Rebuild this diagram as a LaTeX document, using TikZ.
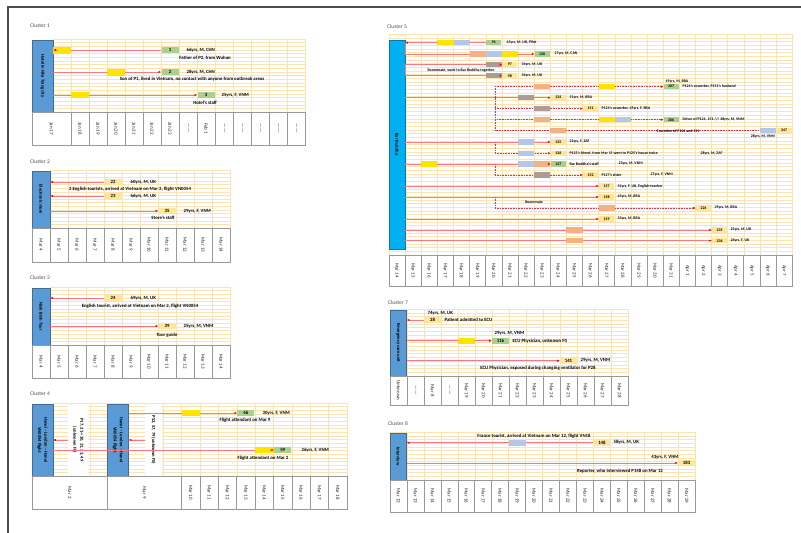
\documentclass[tikz,border=0pt]{standalone}
\usepackage{fontspec}
\setmainfont{Carlito}
\usetikzlibrary{arrows.meta}

\definecolor{gridc}{RGB}{252,228,178}
\definecolor{venueblue}{RGB}{91,155,213}
\definecolor{barblue}{RGB}{0,176,240}
\definecolor{boxgreen}{RGB}{169,208,142}
\definecolor{boxyellow}{RGB}{255,230,153}
\definecolor{hlyellow}{RGB}{255,228,0}
\definecolor{hlblue}{RGB}{180,199,231}
\definecolor{hlorange}{RGB}{244,177,131}
\definecolor{hlgrey}{RGB}{172,156,150}
\definecolor{linkpink}{RGB}{250,120,125}
\definecolor{dotred}{RGB}{235,50,60}

\newcommand\tgrid[6]{%
  \foreach \i in {0,...,#3} \draw[gridln] ({#1+#4*\i},#2) -- ++(0,{#5*#6});
  \foreach \j in {0,...,#5} \draw[gridln] (#1,{#2+#6*\j}) -- ++({#3*#4},0);}
\newcommand\vtext[1]{\rotatebox{-90}{#1}}
\newcommand\daterow[6]{\foreach \t [count=\i] in {#6}
  \node[datecell,minimum width=#4pt,minimum height=#5pt] (#1\i) at ({#2+#4*(\i-0.5)},{#3+#5/2}) {\vtext{\t}};}
\newcommand\hlc[3]{\fill[#1] ({389+16.125*#2},{#3-2.6}) rectangle ++(16.125,5.2);}

\begin{document}
\begin{tikzpicture}[x=1pt,y=-1pt,>={Latex[length=2.6pt,width=2.4pt,color=red]},
  gridln/.style={draw=gridc,line width=0.35pt},
  venue/.style={draw=venueblue!70!black,line width=0.4pt,fill=venueblue,inner sep=0pt,font=\fontsize{4.6}{5.2}\selectfont\bfseries},
  datecell/.style={draw=gray!80,line width=0.6pt,fill=white,inner sep=0pt,text=black!85,font=\fontsize{5}{5.5}\selectfont},
  ctitle/.style={anchor=west,inner sep=0pt,text=black!70,font=\fontsize{5.5}{6.5}\selectfont},
  lbl/.style={inner sep=0.4pt,font=\fontsize{4.8}{5.5}\selectfont\bfseries},
  slbl/.style={inner sep=0.4pt,font=\fontsize{3.9}{4.5}\selectfont\bfseries},
  gbox/.style={lbl,fill=boxgreen,minimum width=17pt,minimum height=6pt},
  ybox/.style={lbl,fill=boxyellow,minimum width=17pt,minimum height=6pt},
  sgbox/.style={slbl,fill=boxgreen,minimum width=15pt,minimum height=5.2pt},
  sybox/.style={slbl,fill=boxyellow,minimum width=15pt,minimum height=5.2pt},
  link/.style={draw=linkpink,line width=0.9pt},
  dlink/.style={draw=dotred,densely dotted,line width=0.6pt},
  note/.style={fill=white,inner sep=0pt,font=\fontsize{4.6}{5.2}\selectfont\bfseries}]
\useasboundingbox (0,0) rectangle (801,533);
\draw[gray!60!black,line width=1.2pt] (8,533) -- (8,7) -- (801,7);

% cluster 1
\node[ctitle] (t1) at (30,26) {Cluster 1};
\tgrid{53}{39}{14}{18}{20}{3.65}
\node[venue,minimum width=21pt,minimum height=72pt] (hotel) at (42.5,76) {\vtext{Hotel in Nha Trang city}};
\node[gbox] (p1) at (170,50) {1};
\node[gbox] (p2) at (170,72) {2};
\node[gbox] (p3) at (206,95) {3};
\draw[link] (hotel.east |- p1) -- (p1);
\draw[link,->] (hotel.east |- p2) -- (p2);
\draw[link,->] (hotel.east |- p3) -- (p3);
\fill[hlyellow] (53,47) rectangle (71,53.5);
\fill[hlyellow] (107,69) rectangle (125,75.5);
\fill[hlyellow] (71,91.8) rectangle (89,98.3);
\draw[link,<-] (hotel.east |- p1) -- ++(5,0);
\node[lbl,anchor=west] (l1a) at (186,50) {66yrs, M, CHN};
\node[lbl] (l1b) at (205,58) {Father of P2, from Wuhan};
\node[lbl,anchor=west] (l2a) at (186,72) {28yrs, M, CHN};
\node[lbl] (l2b) at (192,79.5) {Son of P1, lived in Vietnam, no contact with anyone from outbreak areas};
\node[lbl,anchor=west] (l3a) at (221,95) {25yrs, F, VNM};
\node[lbl] (l3b) at (205,102.3) {Hotel's staff};
\node[datecell,minimum width=39pt,minimum height=33pt] (d1-0) at (51.5,128.5) {\vtext{Jan 17}};
\daterow{d1-}{71}{112}{18}{33}{Jan 18,Jan 19,Jan 20,Jan 21,Jan 22,Jan 23,------,Feb 1,------,------,------,------,------}

% cluster 2
\node[ctitle] (t2) at (30,162) {Cluster 2};
\tgrid{50}{170}{10}{18}{16}{3.625}
\node[venue,minimum width=18pt,minimum height=57pt] (store) at (41,199.5) {\vtext{Electronic store}};
\node[ybox] (p22) at (113,182) {22};
\node[ybox] (p23) at (113,196) {23};
\node[ybox] (p35) at (167,211) {35};
\draw[link,<-] (store.east |- p22) -- (p22);
\draw[link,<-] (store.east |- p23) -- (p23);
\draw[link,->] (store.east |- p35) -- (p35);
\node[lbl,anchor=west] (l22) at (130,182) {60yrs, M, UK};
\node[lbl] (l22b) at (130,189) {2 English tourists, arrived at Vietnam on Mar 2, flight VN0054};
\node[lbl,anchor=west] (l23) at (130,196) {66yrs, M, UK};
\node[lbl,anchor=west] (l35) at (183,211) {29yrs, F, VNM};
\node[lbl] (l35b) at (163,218) {Store's staff};
\daterow{d2-}{32}{228}{18}{34}{Mar 4,Mar 5,Mar 6,Mar 7,Mar 8,Mar 9,Mar 10,Mar 11,Mar 12,Mar 13,Mar 14}

% cluster 3
\node[ctitle] (t3) at (30,278) {Cluster 3};
\tgrid{50}{287}{10}{18}{16}{3.625}
\node[venue,minimum width=18pt,minimum height=57pt] (tour) at (41,316.5) {\vtext{Ninh Binh Tour}};
\node[ybox] (p24) at (113,298) {24};
\node[ybox] (p39) at (167,326) {39};
\draw[link,<-] (tour.east |- p24) -- (p24);
\draw[link,->] (tour.east |- p39) -- (p39);
\node[lbl,anchor=west] (l24) at (130,298) {69yrs, M, UK};
\node[lbl] (l24b) at (140,306) {English tourist, arrived at Vietnam on Mar 2, flight VN0054};
\node[lbl,anchor=west] (l39) at (183,326) {25yrs, M, VNM};
\node[lbl] (l39b) at (167,335) {Tour guide};
\daterow{d3-}{32}{345}{18}{33}{Mar 4,Mar 5,Mar 6,Mar 7,Mar 8,Mar 9,Mar 10,Mar 11,Mar 12,Mar 13,Mar 14}

% cluster 4
\node[ctitle] (t4) at (30,394) {Cluster 4};
\tgrid{53}{403}{16}{18.375}{20}{3.65}
\node[venue,minimum width=21pt,minimum height=72pt] (flightA) at (42.5,440) {\vtext{\shortstack{Hanoi – London – Hanoi\\VN0054 flight}}};
\node[venue,minimum width=21pt,minimum height=72pt] (flightB) at (118,440) {\vtext{\shortstack{Hanoi – London – Hanoi\\VN0054 flight}}};
\node[note,minimum width=20pt,minimum height=70pt] (noteA) at (78,440) {\vtext{\shortstack{P17, 21->30, 31, 33, 49\\(unknown F0)}}};
\node[note,minimum width=17pt,minimum height=70pt] (noteB) at (153.5,440) {\vtext{P52, 57, 79 (unknown F0)}};
\node[gbox] (p46) at (245.9,413) {46};
\node[gbox] (p59) at (282.7,450) {59};
\draw[link,->] (flightB.east |- p46) -- (p46);
\draw[link,->] (flightA.east |- p59) -- (p59);
\draw[link,->] (noteA) -- (flightA.east |- noteA);
\draw[link,->] (noteB) -- (flightB.east |- noteB);
\fill[hlyellow] (181.6,409.8) rectangle (200,416.3);
\fill[hlyellow] (255.1,446.8) rectangle (273.5,453.3);
\draw[link,->] ([xshift=-4pt]p59.west) -- (p59);
\node[lbl,anchor=west] (l46) at (262,413) {30yrs, F, VNM};
\node[lbl] (l46b) at (245,420.5) {Flight attendant on Mar 9};
\node[lbl,anchor=west] (l59) at (301,450) {26yrs, F, VNM};
\node[lbl] (l59b) at (263,458) {Flight attendant on Mar 2};
\node[datecell,minimum width=75.6pt,minimum height=33pt] (d4-a) at (69.8,492.5) {\vtext{Mar 2}};
\node[datecell,minimum width=74pt,minimum height=33pt] (d4-b) at (144.6,492.5) {\vtext{Mar 9}};
\daterow{d4-}{181.6}{476}{18.375}{33}{Mar 10,Mar 11,Mar 12,Mar 13,Mar 14,Mar 15,Mar 16,Mar 17,Mar 18}

% cluster 5
\node[ctitle] (t5) at (387,27) {Cluster 5};
\tgrid{389}{34}{25}{16.125}{60}{3.6833}
\node[venue,fill=barblue,draw=barblue!70!black,minimum width=16.1pt,minimum height=209pt] (bar) at (397.05,144.5) {\vtext{Bar Buddha}};
\node[sgbox] (p91) at (493.8,42.7) {91};
\node[sgbox] (p120) at (542.2,54) {120};
\node[sybox] (p97) at (509.9,64.7) {97};
\node[sybox] (p98) at (509.9,75.7) {98};
\node[sgbox] (p207) at (671.2,86.7) {207};
\node[sybox] (p124) at (558.3,97.7) {124};
\node[sybox] (p151) at (590.6,108.7) {151};
\node[sgbox] (p206) at (671.2,119.7) {206};
\node[sybox] (p247) at (784.1,130.7) {247};
\node[sybox] (p125) at (558.3,142) {125};
\node[sybox] (p126) at (558.3,153.3) {126};
\node[sgbox] (p127) at (558.3,164) {127};
\node[sybox] (p152) at (590.6,175) {152};
\node[sybox] (p157) at (606.7,186) {157};
\node[sybox] (p158) at (606.7,197) {158};
\node[sybox] (p224) at (703.5,208) {224};
\node[sybox] (p159) at (606.7,219) {159};
\node[sybox] (p235) at (719.6,230) {235};
\node[sybox] (p236) at (719.6,240.7) {236};
\coordinate (h124) at (495,97.7);
\coordinate (h125) at (495,142);
\coordinate (h127) at (495,164);
\coordinate (h158) at (495,197);
\draw[link,<-] (bar.east |- p91) -- (p91);
\draw[link,->] (bar.east |- p91) |- (p120);
\draw[link,->] (bar.east |- p98) -- (bar.east |- p97) -- (p97);
\draw[link,->] (bar.east |- p98) -- (p98);
\draw[link,->] (bar.east |- p124) -- (p124);
\draw[dlink,->] (h124) |- (p207);
\draw[dlink,->] (h124) |- (p151);
\draw[dlink,->] (h124) |- (p206);
\draw[dlink,->] (h124) |- (p247);
\draw[link,->] (bar.east |- p125) -- (p125);
\draw[dlink,->] (h125) |- (p126);
\draw[link,->] (bar.east |- p127) -- (p127);
\draw[dlink,->] (h127) |- (p152);
\draw[link,->] (bar.east |- p157) -- (p157);
\draw[link,->] (bar.east |- p158) -- (p158);
\draw[dlink,->] (h158) |- (p224);
\draw[link,->] (bar.east |- p159) -- (p159);
\draw[link,->] (bar.east |- p235) -- (p235);
\draw[link,->] (bar.east |- p236) -- (p236);
\hlc{hlyellow}{3}{42.7} \hlc{hlblue}{4}{42.7}
\hlc{hlorange}{5}{54} \hlc{hlblue}{6}{54} \hlc{hlyellow}{7}{54}
\hlc{hlgrey}{6}{64.7} \hlc{hlgrey}{6}{75.7}
\hlc{hlorange}{9}{86.7} \hlc{hlyellow}{13}{86.7}
\hlc{hlgrey}{8}{97.7}
\hlc{hlgrey}{9}{108.7}
\hlc{hlorange}{9}{119.7} \hlc{hlyellow}{13}{119.7} \hlc{hlblue}{14}{119.7}
\hlc{hlorange}{10}{130.7} \hlc{hlblue}{23}{130.7}
\hlc{hlblue}{8}{142}
\hlc{hlblue}{8}{153.3}
\hlc{hlyellow}{2}{164} \hlc{hlblue}{8}{164} \hlc{hlorange}{9}{164}
\hlc{hlgrey}{9}{175}
\hlc{hlorange}{13}{208}
\hlc{hlorange}{11}{230} \hlc{hlorange}{11}{240.7}
\draw[link,->] ([xshift=-4pt]p97.west) -- (p97);
\draw[link,->] ([xshift=-4pt]p98.west) -- (p98);
\draw[link,->] ([xshift=-4pt]p127.west) -- (p127);
\node[slbl,anchor=west] (l91) at (506,42.7) {43yrs, M, UK, Pilot};
\node[slbl,anchor=west] (l120) at (554,54) {27yrs, M, CAN};
\node[slbl,anchor=west] (l97) at (521,64.7) {34yrs, M, UK};
\node[slbl,anchor=west] (l98) at (521,75.7) {34yrs, M, UK};
\node[slbl] (l97b) at (461,70.2) {Roommate, went to Bar Buddha together};
\node[slbl] (l207a) at (677,81.3) {49yrs, M, BRA};
\node[slbl,anchor=west] (l207) at (682,86.7) {P124's coworker, P151's husband};
\node[slbl,anchor=west] (l124) at (569,97.7) {51yrs, M, BRA};
\node[slbl,anchor=west] (l151) at (601,108.7) {P124's coworker, 45yrs, F, BRA};
\node[slbl,anchor=west] (l206) at (682,119.7) {Driver of P124, 151 /// 48yrs, M, VNM};
\node[slbl] (l247a) at (678,130.7) {Coworker of P124 and 151};
\node[slbl] (l247) at (763,136.8) {28yrs, M, VNM};
\node[slbl,anchor=west] (l125) at (569,142) {22yrs, F, ZAF};
\node[slbl,anchor=west] (l126) at (569,153.3) {P125's friend, from Mar 15 went to P125's house twice};
\node[slbl,anchor=west] (l126b) at (700,153.3) {28yrs, M, ZAF};
\node[slbl,anchor=west] (l127) at (569,164) {Bar Buddha's staff};
\node[slbl,anchor=west] (l127b) at (618,164) {23yrs, M, VNM};
\node[slbl,anchor=west] (l152) at (601,175) {P127's sister};
\node[slbl,anchor=west] (l152b) at (650,175) {27yrs, F, VNM};
\node[slbl,anchor=west] (l157) at (617,186) {31yrs, F, UK, English teacher};
\node[slbl,anchor=west] (l158) at (617,197) {45yrs, M, BRA};
\node[slbl] (l224a) at (534,202.3) {Roommate};
\node[slbl,anchor=west] (l224) at (714,208) {39yrs, M, BRA};
\node[slbl,anchor=west] (l159) at (617,219) {33yrs, M, BRA};
\node[slbl,anchor=west] (l235) at (730,230) {25yrs, M, UK};
\node[slbl,anchor=west] (l236) at (730,240.7) {26yrs, F, UK};
\daterow{d5-}{389}{255}{16.125}{31}{Mar 14,Mar 15,Mar 16,Mar 17,Mar 18,Mar 19,Mar 20,Mar 21,Mar 22,Mar 23,Mar 24,Mar 25,Mar 26,Mar 27,Mar 28,Mar 29,Mar 30,Mar 31,Apr 1,Apr 2,Apr 3,Apr 4,Apr 5,Apr 6,Apr 7}

% cluster 7
\node[ctitle] (t7) at (388,303) {Cluster 7};
\tgrid{390}{309}{14}{17}{18}{3.722}
\node[venue,minimum width=16.5pt,minimum height=66pt] (ecu) at (398.25,343) {\vtext{Emergency care unit}};
\node[ybox] (p28) at (432.5,320) {28};
\node[gbox] (p116) at (500.5,340.7) {116};
\node[ybox] (p141) at (568.5,360.7) {141};
\draw[link,<-] (ecu.east |- p28) -- (p28);
\draw[link,->] (ecu.east |- p116) -- (p116);
\draw[link,->] (ecu.east |- p141) -- (p141);
\fill[hlyellow] (458,337.5) rectangle (475,344);
\node[lbl,anchor=west] (l28a) at (427,313.8) {74yrs, M, UK};
\node[lbl,anchor=west] (l28) at (444,320) {Patient admitted to ECU};
\node[lbl,anchor=west] (l116a) at (494,333.5) {29yrs, M, VNM};
\node[lbl,anchor=west] (l116) at (512,340.7) {ECU Physician, unknown F0};
\node[lbl,anchor=west] (l141) at (580,360.7) {29yrs, M, VNM};
\node[lbl] (l141b) at (538,368) {ECU Physician, exposed during changing ventilator for P28};
\daterow{d7-}{390}{376}{17}{29}{Unknown,------,Mar 8,------,Mar 19,Mar 20,Mar 21,Mar 22,Mar 23,Mar 24,Mar 25,Mar 26,Mar 27,Mar 28}

% cluster 8
\node[ctitle] (t8) at (388,424) {Cluster 8};
\tgrid{390}{432}{18}{16.95}{13}{3.692}
\node[venue,minimum width=16.5pt,minimum height=47pt] (interview) at (398.25,456.5) {\vtext{Interview}};
\node[ybox] (p148) at (601.9,442.7) {148};
\node[ybox] (p183) at (686.6,463) {183};
\draw[link,<-] (interview.east |- p148) -- (p148);
\draw[link,->] (interview.east |- p183) -- (p183);
\fill[hlblue] (508.65,439.5) rectangle (525.6,446);
\node[lbl] (l148a) at (534,436.5) {France tourist, arrived at Vietnam on Mar 12, flight VN18};
\node[lbl,anchor=west] (l148) at (613,442.7) {58yrs, M, UK};
\node[lbl] (l183a) at (665,457) {43yrs, F, VNM};
\node[lbl] (l183) at (620,471) {Reporter, who interviewed P148 on Mar 12};
\daterow{d8-}{390}{480}{16.95}{32}{Mar 12,Mar 13,Mar 14,Mar 15,Mar 16,Mar 17,Mar 18,Mar 19,Mar 20,Mar 21,Mar 22,Mar 23,Mar 24,Mar 25,Mar 26,Mar 27,Mar 28,Mar 29}
\end{tikzpicture}
\end{document}
